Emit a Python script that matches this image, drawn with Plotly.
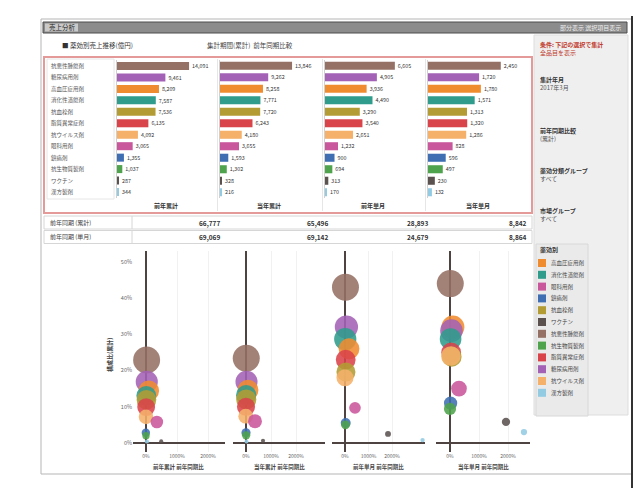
import math
import plotly.graph_objects as go

W, H = 642, 488
FONT = "Noto Sans CJK JP"

# ---- data -------------------------------------------------------------
categories = ["抗悪性腫瘍剤", "糖尿病用剤", "高血圧症用剤", "消化性潰瘍剤", "抗血栓剤", "脂質異常症剤",
              "抗ウイルス剤", "眼科用剤", "鎮痛剤", "抗生物質製剤", "ワクチン", "漢方製剤"]
colors = ["#957064", "#a362b5", "#f08c30", "#2f9c8c", "#b39c33", "#d9434a",
          "#f5b06a", "#c9579c", "#3f6fb2", "#4ea34c", "#5b5250", "#93cbe3"]

panel_titles = ["前年累計", "当年累計", "前年単月", "当年単月"]

sales_prev_cum = [14091, 9461, 8209, 7587, 7536, 6135, 4092, 3065, 1355, 1037, 287, 344]
sales_curr_cum = [13846, 9262, 8258, 7771, 7720, 6243, 4180, 3655, 1593, 1302, 328, 216]
sales_prev_mon = [6605, 4905, 3936, 4490, 3290, 3540, 2651, 1232, 900, 694, 313, 170]
sales_curr_mon = [2450, 1720, 1780, 1571, 1313, 1320, 1286, 828, 596, 497, 230, 132]

table_rows = ["前年同期 (累計)", "前年同期 (単月)"]
table_prev_year = [["66,777", "65,496", "28,893", "8,842"],
                   ["69,069", "69,142", "24,679", "8,864"]]

# share of total (%) and year-on-year growth (%) per panel
share_prev_cum = [22.9, 16.9, 14.4, 13.0, 11.9, 9.9, 7.2, 5.8, 2.8, 2.0, 0.5, 0.4]
share_curr_cum = [23.4, 16.9, 14.6, 13.2, 12.0, 10.0, 7.4, 6.0, 2.8, 2.1, 0.6, 0.4]
share_prev_mon = [43.0, 32.0, 26.0, 28.7, 19.6, 23.0, 18.0, 9.7, 5.5, 5.0, 2.5, 0.8]
share_curr_mon = [44.0, 31.0, 32.0, 28.7, 23.8, 25.0, 24.0, 15.0, 11.0, 9.4, 5.8, 3.0]

growth_prev_cum = [20, 25, 90, 10, 15, 5, 0, 350, -5, 0, 490, 30]
growth_curr_cum = [10, 20, 80, 5, 10, 0, -10, 360, 0, 5, 680, 20]
growth_prev_mon = [20, 60, 170, 10, 40, 30, 0, 425, 30, 20, 1830, 3300]
growth_curr_mon = [10, 50, 100, 20, 60, 40, 30, 310, 20, 0, 1930, 2550]

legend_order = [2, 3, 7, 8, 4, 10, 0, 9, 5, 1, 6, 11]

sales = [sales_prev_cum, sales_curr_cum, sales_prev_mon, sales_curr_mon]
shares = [share_prev_cum, share_curr_cum, share_prev_mon, share_curr_mon]
growths = [growth_prev_cum, growth_curr_cum, growth_prev_mon, growth_curr_mon]
scatter_titles = ["前年累計 前年同期比", "当年累計 前年同期比", "前年単月 前年同期比", "当年単月 前年同期比"]


def px(x):
    return x / W


def py(y):
    return 1 - y / H


fig = go.Figure()
layout = {}
shapes = []
annotations = []

# ---- frame, header, sidebar -------------------------------------------
shapes.append(dict(type="rect", xref="paper", yref="paper", x0=px(41), x1=px(632), y0=py(474), y1=py(19),
                   line=dict(color="#b5b5b5", width=1), fillcolor="white", layer="below"))
shapes.append(dict(type="line", xref="paper", yref="paper", x0=px(632), x1=px(632), y0=py(488), y1=py(16),
                   line=dict(color="#333333", width=2), layer="below"))
shapes.append(dict(type="rect", xref="paper", yref="paper", x0=px(43), x1=px(627), y0=py(33), y1=py(22),
                   line=dict(color="#4d4d4d", width=1), fillcolor="#8c8c8c", layer="below"))
shapes.append(dict(type="rect", xref="paper", yref="paper", x0=px(45), x1=px(78), y0=py(31.5), y1=py(23.5),
                   line=dict(width=0), fillcolor="#c9c9c9", layer="below"))
annotations.append(dict(text="売上分析", x=px(47), y=py(27.5), xref="paper", yref="paper",
                        xanchor="left", yanchor="middle", showarrow=False,
                        font=dict(size=6.5, color="#222", family=FONT)))
annotations.append(dict(text="部分表示 選択項目表示", x=px(623), y=py(27.5), xref="paper", yref="paper",
                        xanchor="right", yanchor="middle", showarrow=False,
                        font=dict(size=6, color="#eeeeee", family=FONT)))
shapes.append(dict(type="rect", xref="paper", yref="paper", x0=px(534), x1=px(628), y0=py(415), y1=py(35),
                   line=dict(color="#dddddd", width=1), fillcolor="#efefef", layer="below"))

annotations.append(dict(text="■ 薬効別売上推移(億円)", x=px(60), y=py(45), xref="paper", yref="paper",
                        xanchor="left", yanchor="middle", showarrow=False,
                        font=dict(size=6.5, color="#333", family=FONT)))
annotations.append(dict(text="集計期間(累計)  前年同期比較", x=px(205), y=py(45), xref="paper", yref="paper",
                        xanchor="left", yanchor="middle", showarrow=False,
                        font=dict(size=6.5, color="#444", family=FONT)))

side_texts = [
    (45, "条件: 下記の選択で集計", "#c0392b", True),
    (53, "全品目を表示", "#c0392b", False),
    (80, "集計年月", "#333", True),
    (88, "2017年3月", "#555", False),
    (130, "前年同期比較", "#333", True),
    (138, "(累計)", "#555", False),
    (170, "薬効分類グループ", "#333", True),
    (178, "すべて", "#555", False),
    (210, "市場グループ", "#333", True),
    (218, "すべて", "#555", False),
]
for y, t, c, b in side_texts:
    annotations.append(dict(text=f"<b>{t}</b>" if b else t, x=px(538), y=py(y), xref="paper", yref="paper",
                            xanchor="left", yanchor="middle", showarrow=False,
                            font=dict(size=6, color=c, family=FONT)))

# ---- bar panels -------------------------------------------------------
bar_dom = [(117, 215), (220, 318), (325, 420), (428, 527)]
bar_y = (py(198), py(60))
shapes.append(dict(type="rect", xref="paper", yref="paper", x0=px(44), x1=px(532), y0=py(213), y1=py(57),
                   line=dict(color="#e49a98", width=2), layer="below"))
shapes.append(dict(type="rect", xref="paper", yref="paper", x0=px(47), x1=px(114), y0=py(199), y1=py(59),
                   line=dict(color="#e6e6e6", width=1), layer="below"))

for k in range(4):
    n = "" if k == 0 else str(k + 1)
    vmax = max(sales[k])
    fig.add_trace(go.Bar(
        y=categories, x=sales[k], orientation="h",
        marker=dict(color=colors, line=dict(width=0)),
        texttemplate="%{x:,}", textposition="outside", cliponaxis=False,
        textfont=dict(size=6, color="#333", family=FONT),
        xaxis="x" + n, yaxis="y" + n, showlegend=False, hoverinfo="skip"))
    layout["xaxis" + n] = dict(domain=[px(bar_dom[k][0]), px(bar_dom[k][1])], range=[0, vmax * 1.36],
                               anchor="y" + n, showticklabels=False, showgrid=False, zeroline=False,
                               showline=False, fixedrange=True)
    layout["yaxis" + n] = dict(domain=list(bar_y), anchor="x" + n, autorange="reversed",
                               showticklabels=False, showgrid=False, zeroline=False,
                               showline=True, linecolor="#d0d0d0", linewidth=1, fixedrange=True)
    annotations.append(dict(text=f"<b>{panel_titles[k]}</b>", x=px((bar_dom[k][0] + bar_dom[k][1]) / 2),
                            y=py(205.5), xref="paper", yref="paper", showarrow=False,
                            xanchor="center", yanchor="middle",
                            font=dict(size=6, color="#333", family=FONT)))
    if k > 0:
        shapes.append(dict(type="line", xref="paper", yref="paper", x0=px(bar_dom[k][0] - 2.5),
                           x1=px(bar_dom[k][0] - 2.5), y0=py(211), y1=py(59),
                           line=dict(color="#e6e6e6", width=1), layer="below"))

for name in categories:
    annotations.append(dict(text=name, x=px(49), y=name, xref="paper", yref="y",
                            xanchor="left", yanchor="middle", showarrow=False,
                            font=dict(size=5.5, color="#555", family=FONT)))

# ---- summary table ----------------------------------------------------
value_right = [222, 330, 430, 529]
for r, label in enumerate(table_rows):
    y0, y1 = 216 + r * 14.5, 229 + r * 14.5
    shapes.append(dict(type="rect", xref="paper", yref="paper", x0=px(44), x1=px(532), y0=py(y1), y1=py(y0),
                       line=dict(color="#d6d6d6", width=1), fillcolor="white", layer="below"))
    shapes.append(dict(type="line", xref="paper", yref="paper", x0=px(132), x1=px(132), y0=py(y1), y1=py(y0),
                       line=dict(color="#d6d6d6", width=1), layer="below"))
    annotations.append(dict(text=label, x=px(48), y=py((y0 + y1) / 2), xref="paper", yref="paper",
                            xanchor="left", yanchor="middle", showarrow=False,
                            font=dict(size=6, color="#444", family=FONT)))
    for k in range(4):
        annotations.append(dict(text=f"<b>{table_prev_year[r][k]}</b>", x=px(value_right[k]),
                                y=py((y0 + y1) / 2), xref="paper", yref="paper",
                                xanchor="right", yanchor="middle", showarrow=False,
                                font=dict(size=6.5, color="#333", family=FONT)))

# ---- bubble panels ----------------------------------------------------
sc_dom = [(133, 225), (233, 325), (332, 425), (436, 530)]
sc_zero = [146, 246, 345, 450]
sc_step = [31, 25, 23.5, 29]          # pixels per 1000 %
sc_y = (py(452), py(251))
for k in range(4):
    n = str(k + 5)
    vmax = max(sales[k])
    order = sorted(range(len(categories)), key=lambda i: -sales[k][i])
    diam = [27 * math.sqrt(sales[k][i] / vmax) for i in order]
    fig.add_trace(go.Scatter(
        x=[growths[k][i] for i in order], y=[shares[k][i] for i in order],
        mode="markers", text=[categories[i] for i in order],
        marker=dict(size=[max(d, 4) for d in diam], color=[colors[i] for i in order],
                    opacity=0.88, line=dict(width=0)),
        xaxis="x" + n, yaxis="y" + n, showlegend=False, cliponaxis=False))
    ppu = sc_step[k] / 1000
    lo = -(sc_zero[k] - sc_dom[k][0]) / ppu
    hi = (sc_dom[k][1] - sc_zero[k]) / ppu
    layout["xaxis" + n] = dict(domain=[px(sc_dom[k][0]), px(sc_dom[k][1])], range=[lo, hi], anchor="y" + n,
                               tickvals=[0, 1000, 2000], ticktext=["0%", "1000%", "2000%"],
                               tickfont=dict(size=5, color="#666", family=FONT),
                               showgrid=True, gridcolor="#f1f1f1", zeroline=True,
                               zerolinecolor="#4e4341", zerolinewidth=2, showline=False, ticks="",
                               fixedrange=True)
    layout["yaxis" + n] = dict(domain=list(sc_y), range=[-2.5, 53], anchor="x" + n,
                               tickvals=[0, 10, 20, 30, 40, 50],
                               ticktext=["0%", "10%", "20%", "30%", "40%", "50%"],
                               showticklabels=(k == 0),
                               tickfont=dict(size=5.5, color="#666", family=FONT),
                               showgrid=False, zeroline=True, zerolinecolor="#4e4341",
                               zerolinewidth=2, showline=False, ticks="", fixedrange=True)
    annotations.append(dict(text=f"<b>{scatter_titles[k]}</b>", x=px((sc_dom[k][0] + sc_dom[k][1]) / 2),
                            y=py(467), xref="paper", yref="paper", showarrow=False,
                            xanchor="center", yanchor="middle",
                            font=dict(size=5.5, color="#444", family=FONT)))

annotations.append(dict(text="<b>構成比(累計)</b>", x=px(109), y=py(355), xref="paper", yref="paper",
                        textangle=-90, showarrow=False, xanchor="center", yanchor="middle",
                        font=dict(size=6, color="#444", family=FONT)))

# ---- legend -----------------------------------------------------------
shapes.append(dict(type="rect", xref="paper", yref="paper", x0=px(536), x1=px(588), y0=py(416), y1=py(244),
                   line=dict(color="#d8d8d8", width=1), fillcolor="#eaeaea", layer="below"))
annotations.append(dict(text="<b>薬効別</b>", x=px(538), y=py(250), xref="paper", yref="paper",
                        xanchor="left", yanchor="middle", showarrow=False,
                        font=dict(size=6, color="#333", family=FONT)))
for j, i in enumerate(legend_order):
    yc = 263 + j * 11.8
    shapes.append(dict(type="rect", xref="paper", yref="paper", x0=px(538), x1=px(546),
                       y0=py(yc + 4), y1=py(yc - 4), line=dict(width=0), fillcolor=colors[i]))
    annotations.append(dict(text=categories[i], x=px(549), y=py(yc), xref="paper", yref="paper",
                            xanchor="left", yanchor="middle", showarrow=False,
                            font=dict(size=5.5, color="#444", family=FONT)))

fig.update_layout(
    width=W, height=H, margin=dict(l=0, r=0, t=0, b=0),
    paper_bgcolor="white", plot_bgcolor="rgba(0,0,0,0)",
    font=dict(family=FONT, size=6, color="#444"),
    bargap=0.3, showlegend=False,
    shapes=shapes, annotations=annotations, **layout)

fig.write_html("out.html")
